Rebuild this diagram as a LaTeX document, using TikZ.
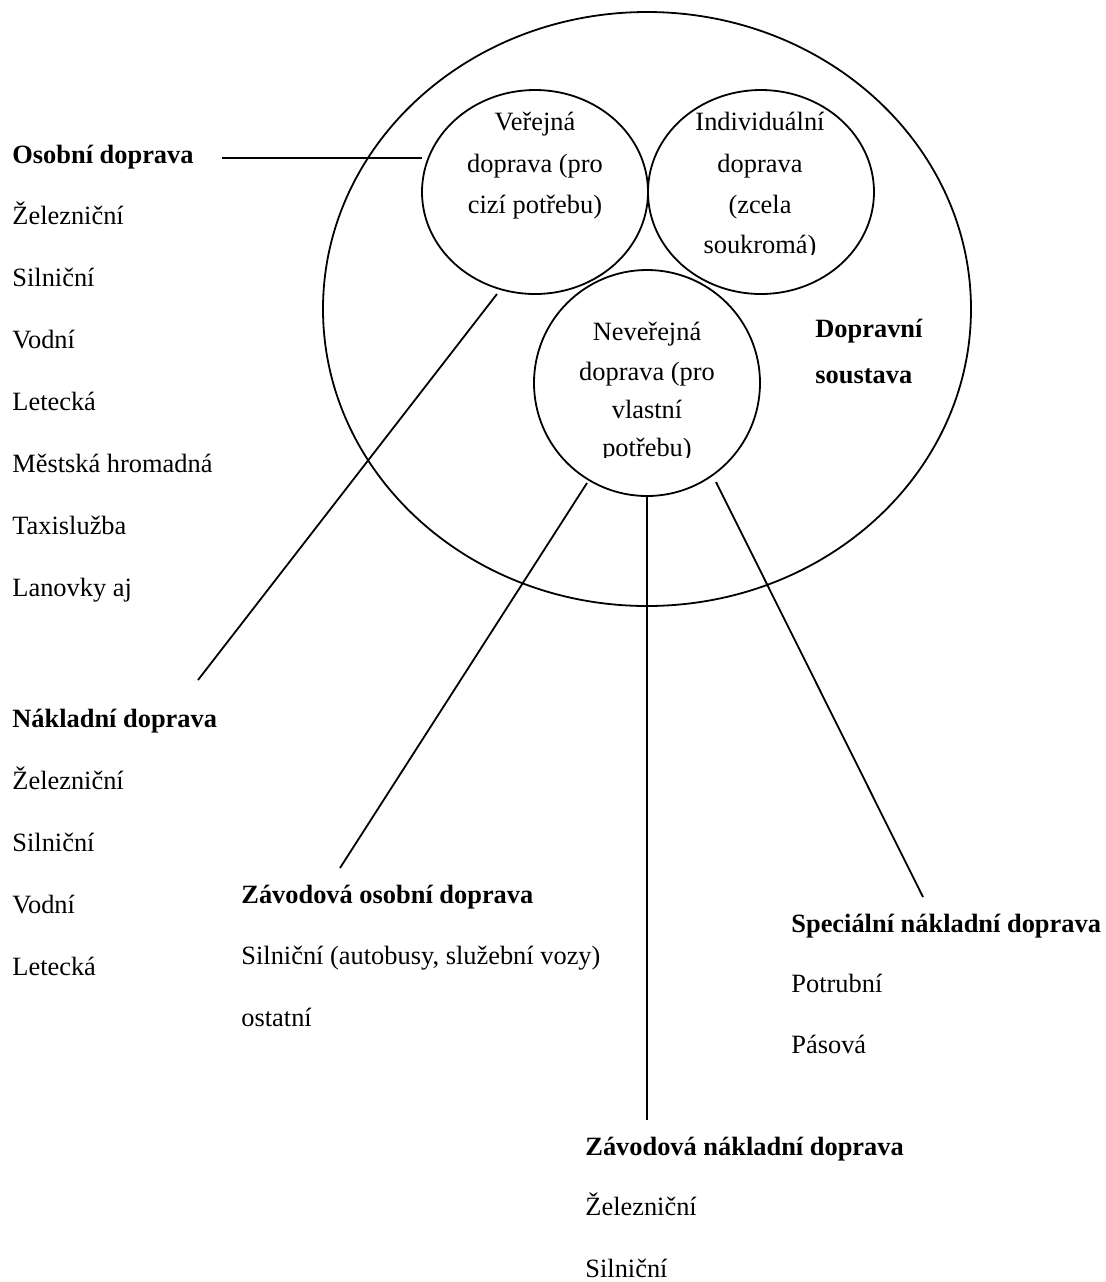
\documentclass[tikz,border=0pt]{standalone}
\usepackage{fontspec}
\setmainfont{Liberation Serif}
\usepackage{tikz}
\usetikzlibrary{shapes.geometric, positioning}

\begin{document}
\begin{tikzpicture}[
  x=0.5pt, y=-0.5pt,
  font=\fontsize{13.2}{16}\selectfont,
  circ/.style={ellipse, draw, line width=0.9pt, minimum width=113pt, minimum height=102pt, inner sep=0pt, outer sep=0pt},
  head/.style={anchor=base west, inner sep=0pt, font=\fontsize{13.2}{16}\selectfont\bfseries},
  item/.style={anchor=base west, inner sep=0pt},
  intext/.style={anchor=base, inner sep=0pt},
  link/.style={line width=0.9pt}
]
  \useasboundingbox (0,0) rectangle (1105,1282);

  % circles
  \node[circ, minimum width=324pt, minimum height=297pt] (soustava) at (647,309) {};
  \node[circ] (verejna) at (535,192) {};
  \node[circ] (individ) at (761,192) {};
  \node[circ, minimum height=113pt] (neverejna) at (647,383) {};

  % texts inside the circles
  \node[intext] (v1) at (535,130) {Veřejná};
  \node[intext] (v2) at (535,172) {doprava (pro};
  \node[intext] (v3) at (535,213) {cizí potřebu)};
  \begin{scope}
    \clip (640,60) rectangle (880,254);
    \node[intext] (i1) at (760,130) {Individuální};
    \node[intext] (i2) at (760,172) {doprava};
    \node[intext] (i3) at (760,213) {(zcela};
    \node[intext] (i4) at (760,253) {soukromá)};
  \end{scope}
  \begin{scope}
    \clip (530,290) rectangle (770,457);
    \node[intext] (n1) at (647,340) {Neveřejná};
    \node[intext] (n2) at (647,380) {doprava (pro};
    \node[intext] (n3) at (647,418) {vlastní};
    \node[intext] (n4) at (647,456) {potřebu)};
  \end{scope}

  \node[head] (dop) at (815,337) {Dopravní};
  \node[head] (sou) at (815,383) {soustava};

  % osobni doprava
  \node[head] (osobni) at (12,163) {Osobní doprava};
  \node[item] at (12,224) {Železniční};
  \node[item] at (12,286) {Silniční};
  \node[item] at (12,348) {Vodní};
  \node[item] at (12,410) {Letecká};
  \node[item] at (12,472) {Městská hromadná};
  \node[item] at (12,534) {Taxislužba};
  \node[item] at (12,596) {Lanovky aj};

  % nakladni doprava
  \node[head] (nakladni) at (12,727) {Nákladní doprava};
  \node[item] at (12,789) {Železniční};
  \node[item] at (12,851) {Silniční};
  \node[item] at (12,913) {Vodní};
  \node[item] at (12,975) {Letecká};

  % zavodova osobni
  \node[head] (zavosob) at (241,903) {Závodová osobní doprava};
  \node[item] at (241,964) {Silniční (autobusy, služební vozy)};
  \node[item] at (241,1026) {ostatní};

  % specialni nakladni
  \node[head] (special) at (791,932) {Speciální nákladní doprava};
  \node[item] at (791,992) {Potrubní};
  \node[item] at (791,1053) {Pásová};

  % zavodova nakladni
  \node[head] (zavnakl) at (585,1155) {Závodová nákladní doprava};
  \node[item] at (585,1215) {Železniční};
  \node[item] at (585,1277) {Silniční};

  % connector ends
  \coordinate (osobni-end) at (222,158);
  \coordinate (nakl-top) at (497,294);
  \coordinate (nakl-end) at (198,680);
  \coordinate (zo-top) at (587,483);
  \coordinate (zo-end) at (340,868);
  \coordinate (zn-end) at (647,1120);
  \coordinate (sp-top) at (716,482);
  \coordinate (sp-end) at (923,897);

  \draw[link] (osobni-end) -- (osobni-end -| verejna.west);
  \draw[link] (nakl-top) -- (nakl-end);
  \draw[link] (zo-top) -- (zo-end);
  \draw[link] (neverejna.south) -- (zn-end);
  \draw[link] (sp-top) -- (sp-end);
\end{tikzpicture}
\end{document}
